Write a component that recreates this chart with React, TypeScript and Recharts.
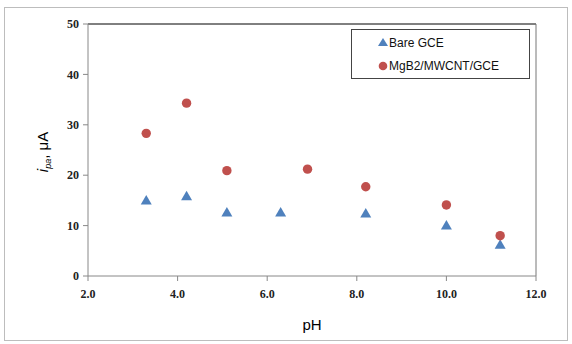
import React from 'react';
import { ScatterChart, Scatter, XAxis, YAxis, ReferenceLine } from 'recharts';

const phBare = [3.3, 4.2, 5.1, 6.3, 8.2, 10.0, 11.2];
const currentBare = [15.0, 15.8, 12.6, 12.6, 12.4, 10.0, 6.2];
const phMod = [3.3, 4.2, 5.1, 6.9, 8.2, 10.0, 11.2];
const currentMod = [28.3, 34.3, 20.9, 21.2, 17.7, 14.1, 8.0];
const xTicks = [2, 4, 6, 8, 10, 12];
const yTicks = [0, 10, 20, 30, 40, 50];

const bareData = phBare.map((ph, i) => ({ ph, current: currentBare[i] }));
const modData = phMod.map((ph, i) => ({ ph, current: currentMod[i] }));

const BLUE = '#4F81BD';
const RED = '#C0504D';
const tickFont = { fontFamily: 'Liberation Serif', fontWeight: 700, fontSize: 12, fill: '#222' };

const Triangle = (props: any) => {
  const { cx, cy } = props;
  return <path d={`M${cx},${cy - 5.5} L${cx + 5.5},${cy + 4} L${cx - 5.5},${cy + 4} Z`} fill={BLUE} />;
};

const Dot = (props: any) => {
  const { cx, cy } = props;
  return <circle cx={cx} cy={cy} r={4.7} fill={RED} />;
};

const YTitle = () => (
  <text
    x={48}
    y={152}
    transform="rotate(-90 48 152)"
    textAnchor="middle"
    fontFamily="Liberation Sans, Arial, sans-serif"
    fontSize={15}
    fill="#000"
  >
    <tspan fontStyle="italic">i</tspan>
    <tspan fontSize={9} fontStyle="italic" dy={3}>pa</tspan>
    <tspan dy={-3}>, μA</tspan>
  </text>
);

const LegendBox = () => (
  <div
    style={{
      position: 'absolute',
      left: 351,
      top: 29,
      width: 179,
      height: 50,
      border: '1px solid #444',
      background: '#fff',
      boxSizing: 'border-box',
    }}
  >
    <svg width={177} height={48} style={{ position: 'absolute', left: 0, top: 0 }}>
      <path d="M31,8 L36,16 L26,16 Z" fill={BLUE} />
      <circle cx={31} cy={36} r={4.3} fill={RED} />
      <text x={37} y={17} fontFamily="Liberation Sans Narrow, Liberation Sans, Arial, sans-serif" fontSize={12} fill="#111">Bare GCE</text>
      <text x={37} y={40} fontFamily="Liberation Sans Narrow, Liberation Sans, Arial, sans-serif" fontSize={12} fill="#111">MgB2/MWCNT/GCE</text>
    </svg>
  </div>
);

export default function App() {
  return (
    <div style={{ position: 'absolute', left: 0, top: 0, width: 572, height: 344, background: '#fff' }}>
      <div
        style={{
          position: 'absolute',
          left: 4,
          top: 7,
          width: 564,
          height: 334,
          border: '1px solid #bdbdbd',
          boxSizing: 'border-box',
        }}
      />
      <div style={{ position: 'absolute', left: 0, top: 0 }}>
        <ScatterChart width={572} height={344} margin={{ top: 24, right: 36, left: 8, bottom: 8 }}>
          <XAxis
            type="number"
            dataKey="ph"
            domain={[2, 12]}
            ticks={xTicks}
            tickFormatter={(v: number) => v.toFixed(1)}
            tick={tickFont}
            tickSize={5}
            tickMargin={8}
            stroke="#888"
            height={60}
            label={{ value: 'pH', position: 'insideBottom', offset: 6, fontFamily: 'Liberation Sans, Arial, sans-serif', fontSize: 15, fill: '#000' }}
          />
          <YAxis
            type="number"
            dataKey="current"
            domain={[0, 50]}
            ticks={yTicks}
            tick={tickFont}
            tickSize={5}
            tickMargin={4}
            stroke="#888"
            width={80}
            label={<YTitle />}
          />
          <ReferenceLine y={50} stroke="#000" />
          <ReferenceLine x={12} stroke="#777" />
          <Scatter name="Bare GCE" data={bareData} shape={<Triangle />} isAnimationActive={false} />
          <Scatter name="MgB2/MWCNT/GCE" data={modData} shape={<Dot />} isAnimationActive={false} />
        </ScatterChart>
      </div>
      <LegendBox />
    </div>
  );
}
